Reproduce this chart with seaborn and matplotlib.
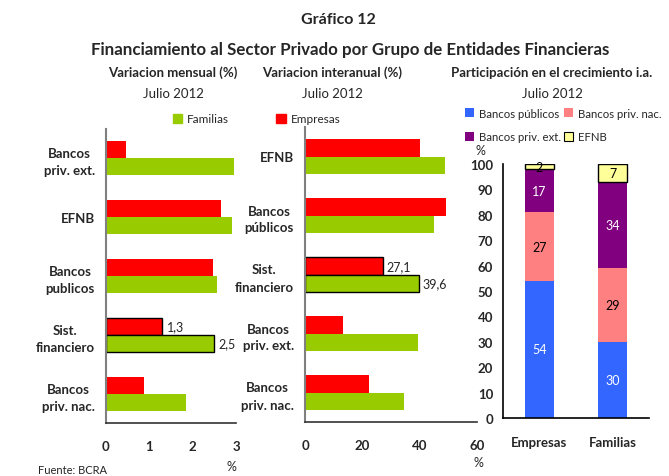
import pandas as pd
import seaborn as sns
import matplotlib.pyplot as plt
from matplotlib.patches import Patch

sns.set_style('white')
plt.rcParams['font.family'] = ['Lato', 'DejaVu Sans']

# Variacion mensual (%)
mens_ent = ['Bancos\npriv. ext.', 'EFNB', 'Bancos\npublicos', 'Sist.\nfinanciero', 'Bancos\npriv. nac.']
mens_emp = [0.46, 2.65, 2.47, 1.3, 0.87]
mens_fam = [2.95, 2.9, 2.56, 2.5, 1.84]

# Variacion interanual (%)
ia_ent = ['EFNB', 'Bancos\npúblicos', 'Sist.\nfinanciero', 'Bancos\npriv. ext.', 'Bancos\npriv. nac.']
ia_emp = [40.1, 49.1, 27.1, 13.1, 22.3]
ia_fam = [48.8, 45.0, 39.6, 39.4, 34.5]

# Participacion en el crecimiento i.a.
grupos = ['Empresas', 'Familias']
componentes = ['Bancos públicos', 'Bancos priv. nac.', 'Bancos priv. ext.', 'EFNB']
part_emp = [54, 27, 17, 2]
part_fam = [30, 29, 34, 7]

colores_tipo = {'Empresas': '#FF0000', 'Familias': '#99CC00'}
colores_comp = {'Bancos públicos': '#3366FF', 'Bancos priv. nac.': '#FF8080',
                'Bancos priv. ext.': '#800080', 'EFNB': '#FFFF99'}
texto_comp = {'Bancos públicos': 'white', 'Bancos priv. nac.': 'black',
              'Bancos priv. ext.': 'white', 'EFNB': 'black'}


def armar(ent, emp, fam):
    return pd.DataFrame({'entidad': ent * 2,
                         'tipo': ['Empresas'] * len(ent) + ['Familias'] * len(ent),
                         'valor': emp + fam})


def barras(ax, df, xmax, step):
    sns.barplot(data=df, y='entidad', x='valor', hue='tipo', hue_order=['Empresas', 'Familias'],
                palette=colores_tipo, orient='h', width=0.58, saturation=1, linewidth=0,
                legend=False, ax=ax)
    ents = list(df['entidad'].unique())
    idx = ents.index('Sist.\nfinanciero')
    for cont in ax.containers:
        cont[idx].set_edgecolor('black')
        cont[idx].set_linewidth(1)
        labels = [f'{v:.1f}'.replace('.', ',') if i == idx else '' for i, v in enumerate(cont.datavalues)]
        ax.bar_label(cont, labels=labels, padding=3, fontsize=9)
    ax.set_xlim(0, xmax)
    ax.set_xticks(range(0, xmax + 1, step))
    ax.set_xlabel('')
    ax.set_ylabel('')
    sns.despine(ax=ax)
    ax.spines['left'].set_color('#808080')
    ax.spines['left'].set_linewidth(1.5)
    ax.spines['bottom'].set_color('#333333')
    ax.spines['bottom'].set_linewidth(1.2)
    ax.tick_params(axis='x', direction='in', length=4, width=1, color='#333333', pad=12,
                   labelsize=9.5)
    ax.tick_params(axis='y', length=0, pad=8, labelsize=9.5)
    for lbl in ax.get_xticklabels():
        lbl.set_fontweight('bold')
    for lbl in ax.get_yticklabels():
        lbl.set_fontweight('bold')
        lbl.set_multialignment('center')
        lbl.set_linespacing(1.5)


fig = plt.figure(figsize=(6.69, 4.77), dpi=100)
W, H = 669, 477

ax1 = fig.add_axes([106 / W, 1 - 424 / H, 130 / W, 294 / H])
barras(ax1, armar(mens_ent, mens_emp, mens_fam), 3, 1)

ax2 = fig.add_axes([305 / W, 1 - 423 / H, 172 / W, 295 / H])
barras(ax2, armar(ia_ent, ia_emp, ia_fam), 60, 20)

# barras apiladas (el primer nivel de hue queda arriba)
part = pd.DataFrame({'grupo': [g for c in componentes for g in grupos],
                     'componente': [c for c in componentes for g in grupos],
                     'valor': [v for par in zip(part_emp, part_fam) for v in par]})
ax3 = fig.add_axes([503 / W, 1 - 419 / H, 146 / W, 254 / H])
sns.histplot(data=part, x='grupo', weights='valor', hue='componente', hue_order=componentes[::-1],
             multiple='stack', discrete=True, shrink=0.41, palette=colores_comp, alpha=1,
             linewidth=0, legend=False, ax=ax3)
for cont in ax3.containers:
    fc = cont[0].get_facecolor()
    comp = [c for c in componentes
            if all(abs(a - b) < 0.01 for a, b in zip(plt.matplotlib.colors.to_rgba(colores_comp[c]), fc))][0]
    if comp == 'EFNB':
        for p in cont:
            p.set_edgecolor('black')
            p.set_linewidth(1)
    ax3.bar_label(cont, labels=[f'{v:.0f}' for v in cont.datavalues], label_type='center',
                  color=texto_comp[comp], fontsize=9)
ax3.set_xlim(-0.5, 1.5)
ax3.set_ylim(0, 100)
ax3.set_yticks(range(0, 101, 10))
ax3.set_xlabel('')
ax3.set_ylabel('')
sns.despine(ax=ax3)
for s in ['left', 'bottom']:
    ax3.spines[s].set_color('black')
    ax3.spines[s].set_linewidth(1.2)
ax3.tick_params(axis='y', direction='in', length=4, width=1, pad=7, labelsize=9.5)
ax3.tick_params(axis='x', length=0, pad=13, labelsize=9.5)
for lbl in ax3.get_xticklabels() + ax3.get_yticklabels():
    lbl.set_fontweight('bold')

# leyendas
fig.legend(handles=[Patch(color=colores_tipo['Familias'], label='Familias'),
                    Patch(color=colores_tipo['Empresas'], label='Empresas')],
           loc='center left', bbox_to_anchor=(173 / W, 1 - 120 / H), ncol=2, frameon=False,
           handlelength=0.8, handleheight=0.8, handletextpad=0.4, columnspacing=4,
           fontsize=8.5, borderpad=0, borderaxespad=0)
orden = ['Bancos públicos', 'Bancos priv. ext.', 'Bancos priv. nac.', 'EFNB']
fig.legend(handles=[Patch(facecolor=colores_comp[c], edgecolor='black' if c == 'EFNB' else 'none',
                          linewidth=0.8, label=c) for c in orden],
           loc='center left', bbox_to_anchor=(465 / W, 1 - 126 / H), ncol=2, frameon=False,
           handlelength=0.8, handleheight=0.8, handletextpad=0.4, columnspacing=0.3,
           labelspacing=1.1, fontsize=8.2, borderpad=0, borderaxespad=0)

# textos
fig.text(338 / W, 1 - 20 / H, 'Gráfico 12', ha='center', va='center', fontsize=11.5, weight='bold')
fig.text(350 / W, 1 - 50 / H, 'Financiamiento al Sector Privado por Grupo de Entidades Financieras',
         ha='center', va='center', fontsize=12.2, weight='bold')
for x, t in [(173, 'Variacion mensual (%)'), (332, 'Variacion interanual (%)'),
             (552, 'Participación en el crecimiento i.a.')]:
    fig.text(x / W, 1 - 73 / H, t, ha='center', va='center', fontsize=9.5, weight='bold')
    fig.text(x / W, 1 - 94 / H, 'Julio 2012', ha='center', va='center', fontsize=9.5)
fig.text(231 / W, 1 - 467 / H, '%', ha='center', va='center', fontsize=9)
fig.text(478 / W, 1 - 463 / H, '%', ha='center', va='center', fontsize=9)
fig.text(480 / W, 1 - 151 / H, '%', ha='center', va='center', fontsize=9)
fig.text(38 / W, 1 - 476 / H, 'Fuente: BCRA', ha='left', va='bottom', fontsize=8)

fig.savefig('out.png', dpi=100)
